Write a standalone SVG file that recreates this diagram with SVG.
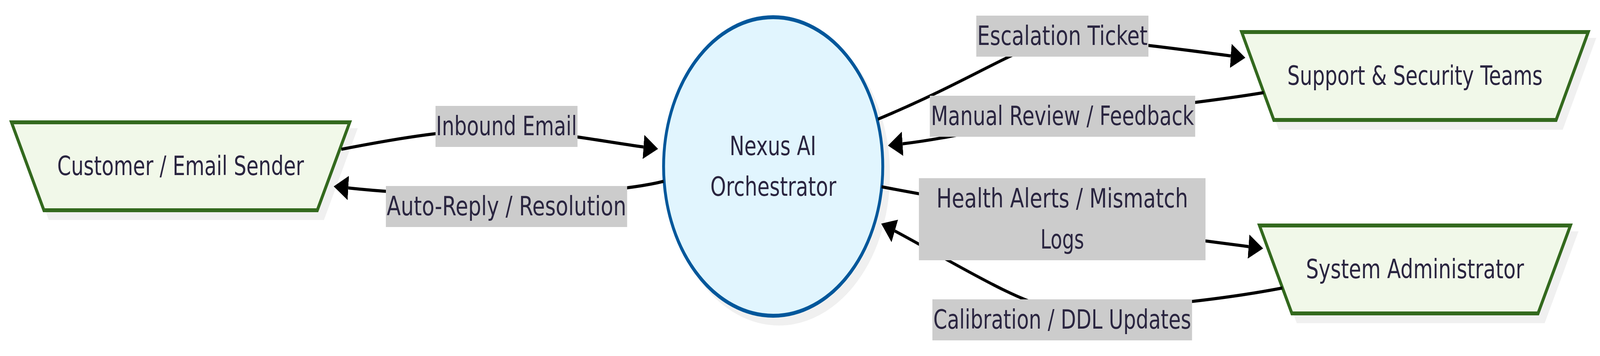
<svg xmlns="http://www.w3.org/2000/svg" width="5577" height="911" viewBox="0 0 5577 911" preserveAspectRatio="none" style="width:100vw;height:100vh">
<style>
.bg{fill:#ffffff}
.shadow{fill:#f0f0f0;stroke:#f0f0f0;stroke-width:10}
.trap{fill:#f1f8e9;stroke:#33691e;stroke-width:10}
.proc{fill:#e1f5fe;stroke:#01579b;stroke-width:10}
.edge{fill:none;stroke:#000000;stroke-width:8;marker-end:url(#arrow)}
.lbl{fill:#cccccc}
text{font-family:"DejaVu Sans","Noto Sans",sans-serif;font-size:68px;fill:#2a2540;text-anchor:middle}
</style>
<defs>
<marker id="arrow" markerUnits="userSpaceOnUse" viewBox="0 0 51 62" markerWidth="51" markerHeight="62" refX="0" refY="31" orient="auto">
<path d="M0,0 L51,31 L0,62 z" fill="#000000"/>
</marker>
</defs>
<rect class="bg" x="0" y="0" width="5577" height="911"/>

<g id="node-customer">
<polygon class="shadow" points="60,333 1239,333 1126,558 173,558"/>
<polygon class="trap" points="40,313 1219,313 1106,538 153,538"/>
<text x="629.5" y="448" textLength="860" lengthAdjust="spacingAndGlyphs">Customer / Email Sender</text>
</g>

<g id="node-nexus">
<circle class="shadow" cx="2715" cy="446" r="382"/>
<circle class="proc" cx="2695" cy="426" r="382"/>
<text x="2694" y="397" textLength="302" lengthAdjust="spacingAndGlyphs">Nexus AI</text>
<text x="2695.5" y="501" textLength="439" lengthAdjust="spacingAndGlyphs">Orchestrator</text>
</g>

<g id="node-support">
<polygon class="shadow" points="4348,102 5556,102 5444,327 4460,327"/>
<polygon class="trap" points="4328,82 5536,82 5424,307 4440,307"/>
<text x="4932" y="217" textLength="890" lengthAdjust="spacingAndGlyphs">Support &amp; Security Teams</text>
</g>

<g id="node-admin">
<polygon class="shadow" points="4410,597 5494,597 5381,822 4523,822"/>
<polygon class="trap" points="4390,577 5474,577 5361,802 4503,802"/>
<text x="4932" y="712" textLength="760" lengthAdjust="spacingAndGlyphs">System Administrator</text>
</g>

<g id="connectors">
<path id="e1" class="edge" d="M1190,382 C1450,345 1600,330 1765,333 C1930,336 2100,362 2243,376"/>
<path id="e2" class="edge" d="M2313,464 C2200,485 1950,500 1765,500 C1580,500 1380,494 1214,481"/>
<path id="e3" class="edge" d="M3060,305 C3420,195 3580,100 3720,100 C3860,100 4100,125 4290,143"/>
<path id="e4" class="edge" d="M4405,237 C4200,262 3900,285 3703,300 C3500,315 3350,350 3146,368"/>
<path id="e5" class="edge" d="M3073,478 C3300,510 3550,540 3702,561 C3900,588 4150,612 4352,631"/>
<path id="e6" class="edge" d="M4470,737 C4200,775 3800,800 3680,790 C3560,780 3320,670 3119,591"/>
</g>

<g id="edge-labels">
<g id="label-e1">
<rect class="lbl" x="1518" y="271" width="495" height="105"/>
<text x="1765.5" y="346" textLength="491" lengthAdjust="spacingAndGlyphs">Inbound Email</text>
</g>
<g id="label-e2">
<rect class="lbl" x="1345" y="476" width="841" height="105"/>
<text x="1765.5" y="551" textLength="835" lengthAdjust="spacingAndGlyphs">Auto-Reply / Resolution</text>
</g>
<g id="label-e3">
<rect class="lbl" x="3403" y="40" width="600" height="105"/>
<text x="3703" y="115" textLength="594" lengthAdjust="spacingAndGlyphs">Escalation Ticket</text>
</g>
<g id="label-e4">
<rect class="lbl" x="3241" y="245" width="925" height="105"/>
<text x="3703.5" y="320" textLength="917" lengthAdjust="spacingAndGlyphs">Manual Review / Feedback</text>
</g>
<g id="label-e5">
<rect class="lbl" x="3203" y="456" width="999" height="210"/>
<text x="3702.5" y="531" textLength="877" lengthAdjust="spacingAndGlyphs">Health Alerts / Mismatch</text>
<text x="3702.5" y="636" textLength="152" lengthAdjust="spacingAndGlyphs">Logs</text>
</g>
<g id="label-e6">
<rect class="lbl" x="3250" y="766" width="905" height="105"/>
<text x="3702.5" y="841" textLength="899" lengthAdjust="spacingAndGlyphs">Calibration / DDL Updates</text>
</g>
</g>
</svg>
